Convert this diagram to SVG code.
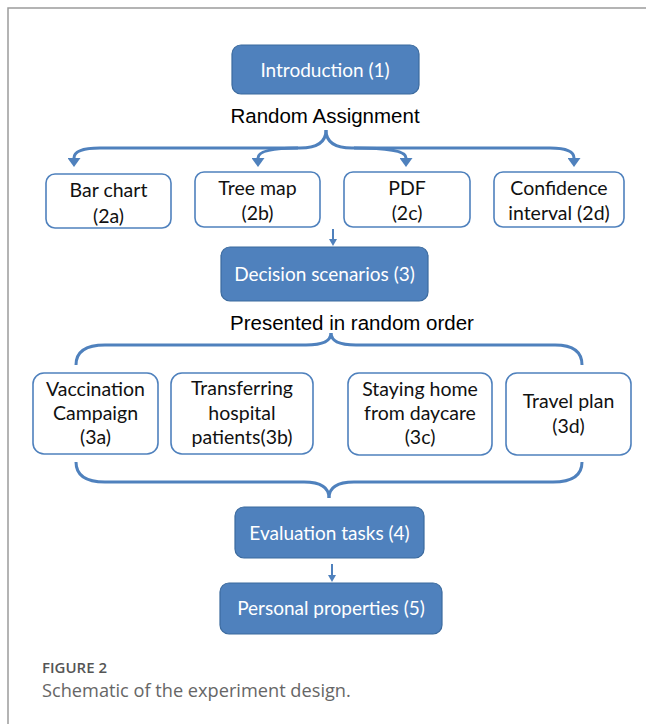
<svg xmlns="http://www.w3.org/2000/svg" width="646" height="724" viewBox="0 0 646 724">
<style>
.frame{fill:none;stroke:#9c9c9c;stroke-width:1.5}
.solid rect{fill:#4F81BD;stroke:#3B6A9E;stroke-width:1.2}
.solid text{fill:#ffffff;font-family:Lato,"Liberation Sans",sans-serif;font-size:19px;text-anchor:middle}
.outline rect{fill:#ffffff;stroke:#4F81BD;stroke-width:1.6}
.outline text{fill:#111111;font-family:Lato,"Liberation Sans",sans-serif;font-size:19.5px;text-anchor:middle}
.lbl{fill:#000;font-family:"Liberation Sans",Arial,sans-serif;font-size:20.5px;text-anchor:middle}
.brace{fill:none;stroke:#4F81BD;stroke-width:3}
.thin{fill:none;stroke:#4F81BD;stroke-width:2}
.cap1{fill:#555;font-family:"Open Sans","Noto Sans",sans-serif;font-size:15px;font-weight:600}
.cap2{fill:#666;font-family:"Open Sans","Noto Sans",sans-serif;font-size:18.2px}
</style>
<defs>
<marker id="ah" markerUnits="userSpaceOnUse" markerWidth="9" markerHeight="13" refX="0" refY="5" orient="auto" viewBox="0 0 10 10" preserveAspectRatio="none">
<path d="M0,0 L10,5 L0,10 Z" fill="#4F81BD"/>
</marker>
<marker id="ahs" markerUnits="userSpaceOnUse" markerWidth="7" markerHeight="8" refX="0" refY="5" orient="auto" viewBox="0 0 10 10" preserveAspectRatio="none">
<path d="M0,0 L10,5 L0,10 Z" fill="#4F81BD"/>
</marker>
</defs>
<rect width="646" height="724" fill="#ffffff"/>
<path class="frame" d="M8,724 L8,8 L646,8"/>

<g id="connectors">
<path class="brace" marker-end="url(#ah)" d="M326,130 C326,142 318,148 300,148 L100,148 C84,148 74,151 74,158"/>
<path class="brace" marker-end="url(#ah)" d="M298,148 C272,148 258,151 258,158"/>
<path class="brace" marker-end="url(#ah)" d="M326,130 C326,142 334,148 352,148 L550,148 C566,148 574,151 574,158"/>
<path class="brace" marker-end="url(#ah)" d="M354,148 C390,148 406,151 406,158"/>
<path class="thin" marker-end="url(#ahs)" d="M333,229 L333,239"/>
<path class="brace" d="M331,333 C331,341 323,345 306,345 L105,345 C86,345 76,352 76,365"/>
<path class="brace" d="M331,333 C331,341 339,345 356,345 L555,345 C574,345 582,352 582,365"/>
<path class="brace" d="M76,462 C76,475 86,482 105,482 L304,482 C321,482 329,488 329,498"/>
<path class="brace" d="M582,462 C582,475 572,482 553,482 L354,482 C337,482 329,488 329,498"/>
<path class="thin" marker-end="url(#ahs)" d="M332,564 L332,575"/>
</g>

<g id="intro" class="solid">
<rect x="232" y="45" width="187" height="49" rx="9"/>
<text x="325" y="76.5">Introduction (1)</text>
</g>
<text class="lbl" x="325" y="123">Random Assignment</text>

<g id="bar" class="outline">
<rect x="46" y="174" width="125" height="54" rx="9"/>
<text x="108.5" y="197">Bar chart</text>
<text x="108.5" y="223">(2a)</text>
</g>
<g id="tree" class="outline">
<rect x="195" y="172" width="125" height="55" rx="9"/>
<text x="257.5" y="195">Tree map</text>
<text x="257.5" y="220">(2b)</text>
</g>
<g id="pdf" class="outline">
<rect x="344" y="172" width="126" height="55" rx="9"/>
<text x="407" y="195">PDF</text>
<text x="407" y="220">(2c)</text>
</g>
<g id="ci" class="outline">
<rect x="494" y="172" width="130" height="55" rx="9"/>
<text x="559" y="195">Confidence</text>
<text x="559" y="220">interval (2d)</text>
</g>

<g id="decision" class="solid">
<rect x="221" y="247" width="207" height="54" rx="9"/>
<text x="324.5" y="281">Decision scenarios (3)</text>
</g>
<text class="lbl" x="352" y="330">Presented in random order</text>

<g id="vacc" class="outline">
<rect x="33" y="373" width="125" height="81" rx="11"/>
<text x="95.5" y="396">Vaccination</text>
<text x="95.5" y="420">Campaign</text>
<text x="95.5" y="444">(3a)</text>
</g>
<g id="transfer" class="outline">
<rect x="171" y="373" width="142" height="81" rx="11"/>
<text x="242" y="395">Transferring</text>
<text x="242" y="420">hospital</text>
<text x="242" y="444">patients(3b)</text>
</g>
<g id="staying" class="outline">
<rect x="348" y="373" width="144" height="82" rx="11"/>
<text x="420" y="396">Staying home</text>
<text x="420" y="420">from daycare</text>
<text x="420" y="444">(3c)</text>
</g>
<g id="travel" class="outline">
<rect x="506" y="373" width="125" height="82" rx="11"/>
<text x="568.5" y="408">Travel plan</text>
<text x="568.5" y="433">(3d)</text>
</g>

<g id="eval" class="solid">
<rect x="235" y="507" width="189" height="51" rx="9"/>
<text x="329.5" y="539.5">Evaluation tasks (4)</text>
</g>
<g id="personal" class="solid">
<rect x="220" y="583" width="222" height="51" rx="9"/>
<text x="331" y="614.5">Personal properties (5)</text>
</g>

<text class="cap1" x="42" y="673">FIGURE 2</text>
<text class="cap2" x="42" y="697">Schematic of the experiment design.</text>
</svg>
